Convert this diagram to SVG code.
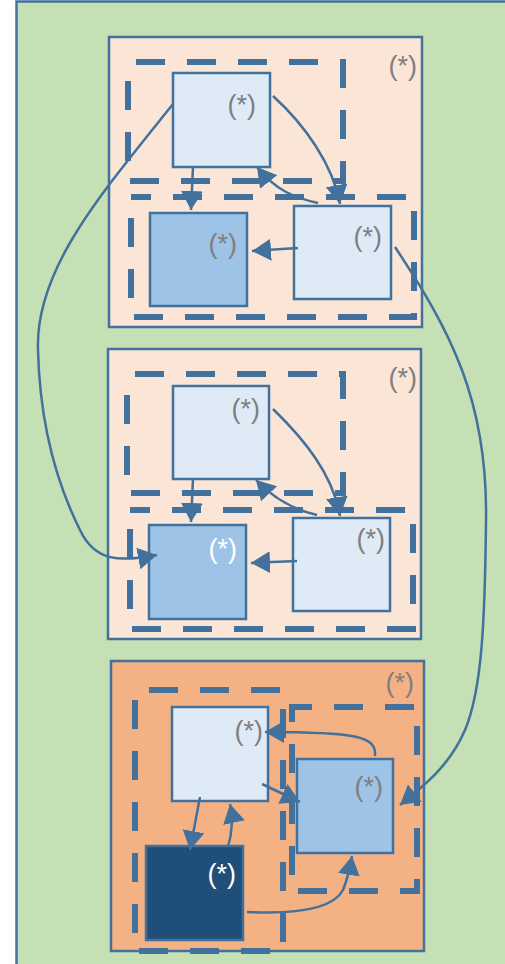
<svg xmlns="http://www.w3.org/2000/svg" width="505" height="964" viewBox="0 0 505 964">
<defs>
<style>
.bg{fill:#c5e0b4;stroke:#41719c;stroke-width:2.5}
.cl{fill:#fbe5d6;stroke:#41719c;stroke-width:2.5}
.cl3{fill:#f4b183;stroke:#41719c;stroke-width:2.5}
.ds{fill:none;stroke:#41719c;stroke-width:6;stroke-dasharray:29 22}
.n1{fill:#deebf7;stroke:#41719c;stroke-width:2.5}
.n2{fill:#9dc3e6;stroke:#41719c;stroke-width:2.5}
.n3{fill:#1f4e79;stroke:#41719c;stroke-width:2.5}
.lb{font-family:"Liberation Sans",Arial,sans-serif;font-size:27px;fill:#7f7f7f;text-anchor:end}
.lw{font-family:"Liberation Sans",Arial,sans-serif;font-size:27px;fill:#ffffff;text-anchor:end}
.e{fill:none;stroke:#41719c;stroke-width:2.5;marker-end:url(#a)}
</style>
<marker id="a" markerWidth="20" markerHeight="24" refX="19" refY="12" orient="auto" markerUnits="userSpaceOnUse">
<path d="M0,1 L19,12 L0,23 z" fill="#41719c"/>
</marker>
</defs>
<rect class="bg" x="16.5" y="1.5" width="500" height="975"/>

<g id="cluster1">
<rect class="cl" x="109" y="37" width="313" height="290"/>
<rect class="ds" x="128" y="62" width="215" height="119" style="stroke-dashoffset:43"/>
<rect class="ds" x="131" y="197" width="283" height="120" style="stroke-dashoffset:9"/>
<text class="lb" x="417" y="75">(*)</text>
</g>
<g id="c1n1"><rect class="n1" x="173" y="73" width="97" height="94"/><text class="lb" x="256" y="114">(*)</text></g>
<g id="c1n2"><rect class="n2" x="150" y="213" width="97" height="93"/><text class="lb" x="237" y="253">(*)</text></g>
<g id="c1n3"><rect class="n1" x="294" y="206" width="97" height="93"/><text class="lb" x="382" y="246">(*)</text></g>

<g id="cluster2">
<rect class="cl" x="108" y="349" width="313" height="290"/>
<rect class="ds" x="127" y="374" width="216" height="119" style="stroke-dashoffset:43"/>
<rect class="ds" x="130" y="510" width="283" height="119" style="stroke-dashoffset:9"/>
<text class="lb" x="417" y="387">(*)</text>
</g>
<g id="c2n1"><rect class="n1" x="173" y="386" width="96" height="93"/><text class="lb" x="260" y="418">(*)</text></g>
<g id="c2n2"><rect class="n2" x="149" y="525" width="97" height="94"/><text class="lw" x="237" y="558">(*)</text></g>
<g id="c2n3"><rect class="n1" x="293" y="518" width="97" height="93"/><text class="lb" x="385" y="548">(*)</text></g>

<g id="cluster3">
<rect class="cl3" x="111" y="661" width="313" height="290"/>
<rect class="ds" x="135" y="690" width="148" height="261" style="stroke-dashoffset:37"/>
<rect class="ds" x="292" y="707" width="125" height="184" style="stroke-dashoffset:9"/>
<text class="lb" x="414" y="692">(*)</text>
</g>
<g id="c3n1"><rect class="n1" x="172" y="707" width="96" height="94"/><text class="lb" x="263" y="740">(*)</text></g>
<g id="c3n2"><rect class="n3" x="146" y="846" width="97" height="94"/><text class="lw" x="236" y="883">(*)</text></g>
<g id="c3n3"><rect class="n2" x="297" y="759" width="96" height="94"/><text class="lb" x="383" y="796">(*)</text></g>

<g id="connectors">
<path class="e" d="M193,167 L191,210"/>
<path class="e" d="M273,96 C305,125 333,165 340,204"/>
<path class="e" d="M318,203 C295,198 275,190 257,167"/>
<path class="e" d="M298,248 L252,251"/>
<path class="e" d="M173,104 C100,195 35,270 38,350 C40,430 60,490 80,530 C95,562 120,562 157,555"/>
<path class="e" d="M395,247 C450,330 488,400 486,521 C485,620 482,690 465,730 C450,765 425,785 400,805"/>

<path class="e" d="M193,479 L191,522"/>
<path class="e" d="M273,409 C305,440 333,475 340,516"/>
<path class="e" d="M317,515 C295,510 275,500 256,480"/>
<path class="e" d="M297,561 L251,563"/>

<path class="e" d="M375,756 C377,736 355,732 265,732"/>
<path class="e" d="M262,784 L300,802"/>
<path class="e" d="M200,797 L190,850"/>
<path class="e" d="M228,847 C233,830 233,818 230,804"/>
<path class="e" d="M247,912 C310,915 335,905 343,890 C347,880 350,868 352,856"/>
</g>
</svg>
